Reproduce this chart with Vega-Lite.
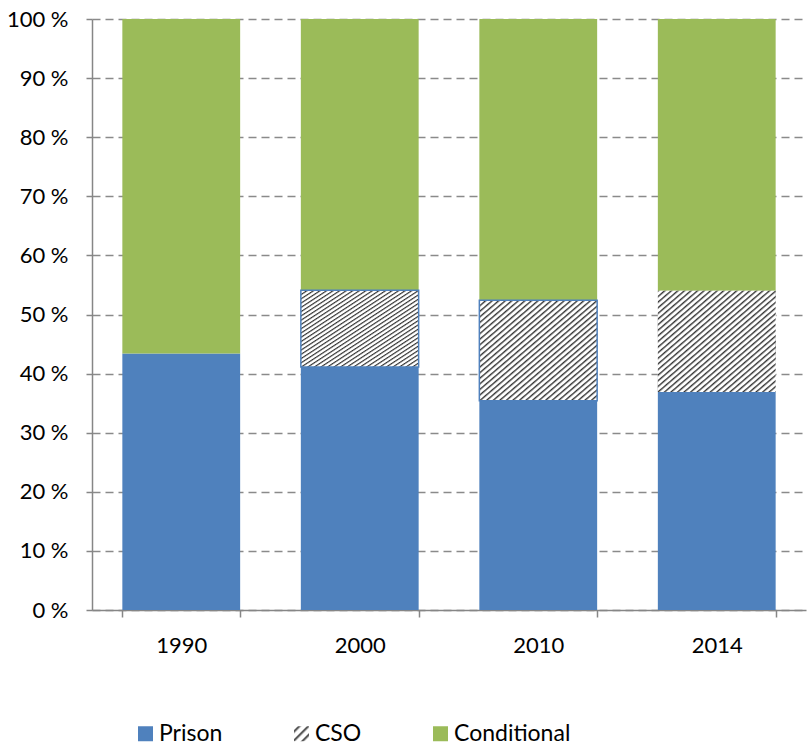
{
  "$schema": "https://vega.github.io/schema/vega-lite/v6.json",
  "width": 714,
  "height": 591,
  "autosize": {"type": "none"},
  "padding": {"left": 92, "top": 19, "right": 2, "bottom": 140},
  "background": "white",
  "config": {
    "font": "Lato",
    "view": {"stroke": null},
    "axis": {"labelFont": "Lato", "labelColor": "#000000", "labelFontSize": 22, "title": null},
    "legend": {"labelFont": "Lato", "labelColor": "#000000", "labelFontSize": 23, "padding": 0}
  },
  "data": {
    "values": [
      {"year": "1990", "series": "Prison", "pct": 43.4},
      {"year": "1990", "series": "CSO", "pct": 0},
      {"year": "1990", "series": "Conditional", "pct": 56.6},
      {"year": "2000", "series": "Prison", "pct": 41.1},
      {"year": "2000", "series": "CSO", "pct": 13.0},
      {"year": "2000", "series": "Conditional", "pct": 45.9},
      {"year": "2010", "series": "Prison", "pct": 35.4},
      {"year": "2010", "series": "CSO", "pct": 17.0},
      {"year": "2010", "series": "Conditional", "pct": 47.6},
      {"year": "2014", "series": "Prison", "pct": 36.9},
      {"year": "2014", "series": "CSO", "pct": 17.1},
      {"year": "2014", "series": "Conditional", "pct": 46.0}
    ]
  },
  "transform": [
    {"calculate": "indexof(['Prison', 'CSO', 'Conditional'], datum.series)", "as": "ord"}
  ],
  "encoding": {
    "x": {
      "field": "year",
      "type": "ordinal",
      "scale": {"paddingInner": 0.34, "paddingOuter": 0.17},
      "axis": {
        "labelAngle": 0,
        "tickBand": "extent",
        "tickSize": 7,
        "tickColor": "#868686",
        "tickWidth": 1.5,
        "domainColor": "#868686",
        "domainWidth": 1.5,
        "labelPadding": 18,
        "grid": false
      }
    },
    "y": {
      "field": "pct",
      "type": "quantitative",
      "stack": "zero",
      "scale": {"domain": [0, 100], "nice": false},
      "axis": {
        "values": [0, 10, 20, 30, 40, 50, 60, 70, 80, 90, 100],
        "labelExpr": "datum.value + ' %'",
        "grid": true,
        "gridDash": [8, 5],
        "gridColor": "#8a8a8a",
        "gridWidth": 1.3,
        "domainColor": "#868686",
        "domainWidth": 1.5,
        "tickColor": "#868686",
        "tickWidth": 1.5,
        "tickSize": 6,
        "labelPadding": 18
      }
    },
    "order": {"field": "ord", "type": "quantitative"}
  },
  "layer": [
    {
      "mark": {"type": "bar"},
      "encoding": {
        "color": {
          "field": "series",
          "type": "nominal",
          "sort": ["Prison", "CSO", "Conditional"],
          "scale": {
            "domain": ["Prison", "CSO", "Conditional"],
            "range": [
              "#4F81BD",
              {"signal": "{gradient: 'linear', x1: 0, y1: 0, x2: 1, y2: 1, stops: [{offset: 0, color: '#ffffff'}, {offset: 0.1, color: '#ffffff'}, {offset: 0.17, color: '#333333'}, {offset: 0.27, color: '#ffffff'}, {offset: 0.4, color: '#ffffff'}, {offset: 0.47, color: '#333333'}, {offset: 0.57, color: '#ffffff'}, {offset: 0.7, color: '#ffffff'}, {offset: 0.77, color: '#333333'}, {offset: 0.87, color: '#ffffff'}, {offset: 1, color: '#ffffff'}]}"},
              "#9BBB59"
            ]
          },
          "legend": {
            "title": null,
            "orient": "none",
            "direction": "horizontal",
            "legendX": 42,
            "legendY": 703,
            "symbolType": "square",
            "symbolSize": 225,
            "symbolStrokeWidth": 0,
            "symbolOpacity": 1,
            "labelOffset": 2,
            "columnPadding": 67
          }
        }
      }
    },
    {
      "mark": {
        "type": "bar",
        "strokeWidth": 1.5,
        "fill": {
          "gradient": "linear",
          "x1": 0, "y1": 0, "x2": 1, "y2": 1,
          "stops": [
            {"offset": 0, "color": "#333333"}, {"offset": 0.01111, "color": "#ffffff"}, {"offset": 0.02083, "color": "#ffffff"},
            {"offset": 0.02778, "color": "#333333"}, {"offset": 0.03889, "color": "#ffffff"}, {"offset": 0.04861, "color": "#ffffff"},
            {"offset": 0.05556, "color": "#333333"}, {"offset": 0.06667, "color": "#ffffff"}, {"offset": 0.07639, "color": "#ffffff"},
            {"offset": 0.08333, "color": "#333333"}, {"offset": 0.09444, "color": "#ffffff"}, {"offset": 0.10417, "color": "#ffffff"},
            {"offset": 0.11111, "color": "#333333"}, {"offset": 0.12222, "color": "#ffffff"}, {"offset": 0.13194, "color": "#ffffff"},
            {"offset": 0.13889, "color": "#333333"}, {"offset": 0.15, "color": "#ffffff"}, {"offset": 0.15972, "color": "#ffffff"},
            {"offset": 0.16667, "color": "#333333"}, {"offset": 0.17778, "color": "#ffffff"}, {"offset": 0.1875, "color": "#ffffff"},
            {"offset": 0.19444, "color": "#333333"}, {"offset": 0.20556, "color": "#ffffff"}, {"offset": 0.21528, "color": "#ffffff"},
            {"offset": 0.22222, "color": "#333333"}, {"offset": 0.23333, "color": "#ffffff"}, {"offset": 0.24306, "color": "#ffffff"},
            {"offset": 0.25, "color": "#333333"}, {"offset": 0.26111, "color": "#ffffff"}, {"offset": 0.27083, "color": "#ffffff"},
            {"offset": 0.27778, "color": "#333333"}, {"offset": 0.28889, "color": "#ffffff"}, {"offset": 0.29861, "color": "#ffffff"},
            {"offset": 0.30556, "color": "#333333"}, {"offset": 0.31667, "color": "#ffffff"}, {"offset": 0.32639, "color": "#ffffff"},
            {"offset": 0.33333, "color": "#333333"}, {"offset": 0.34444, "color": "#ffffff"}, {"offset": 0.35417, "color": "#ffffff"},
            {"offset": 0.36111, "color": "#333333"}, {"offset": 0.37222, "color": "#ffffff"}, {"offset": 0.38194, "color": "#ffffff"},
            {"offset": 0.38889, "color": "#333333"}, {"offset": 0.4, "color": "#ffffff"}, {"offset": 0.40972, "color": "#ffffff"},
            {"offset": 0.41667, "color": "#333333"}, {"offset": 0.42778, "color": "#ffffff"}, {"offset": 0.4375, "color": "#ffffff"},
            {"offset": 0.44444, "color": "#333333"}, {"offset": 0.45556, "color": "#ffffff"}, {"offset": 0.46528, "color": "#ffffff"},
            {"offset": 0.47222, "color": "#333333"}, {"offset": 0.48333, "color": "#ffffff"}, {"offset": 0.49306, "color": "#ffffff"},
            {"offset": 0.5, "color": "#333333"}, {"offset": 0.51111, "color": "#ffffff"}, {"offset": 0.52083, "color": "#ffffff"},
            {"offset": 0.52778, "color": "#333333"}, {"offset": 0.53889, "color": "#ffffff"}, {"offset": 0.54861, "color": "#ffffff"},
            {"offset": 0.55556, "color": "#333333"}, {"offset": 0.56667, "color": "#ffffff"}, {"offset": 0.57639, "color": "#ffffff"},
            {"offset": 0.58333, "color": "#333333"}, {"offset": 0.59444, "color": "#ffffff"}, {"offset": 0.60417, "color": "#ffffff"},
            {"offset": 0.61111, "color": "#333333"}, {"offset": 0.62222, "color": "#ffffff"}, {"offset": 0.63194, "color": "#ffffff"},
            {"offset": 0.63889, "color": "#333333"}, {"offset": 0.65, "color": "#ffffff"}, {"offset": 0.65972, "color": "#ffffff"},
            {"offset": 0.66667, "color": "#333333"}, {"offset": 0.67778, "color": "#ffffff"}, {"offset": 0.6875, "color": "#ffffff"},
            {"offset": 0.69444, "color": "#333333"}, {"offset": 0.70556, "color": "#ffffff"}, {"offset": 0.71528, "color": "#ffffff"},
            {"offset": 0.72222, "color": "#333333"}, {"offset": 0.73333, "color": "#ffffff"}, {"offset": 0.74306, "color": "#ffffff"},
            {"offset": 0.75, "color": "#333333"}, {"offset": 0.76111, "color": "#ffffff"}, {"offset": 0.77083, "color": "#ffffff"},
            {"offset": 0.77778, "color": "#333333"}, {"offset": 0.78889, "color": "#ffffff"}, {"offset": 0.79861, "color": "#ffffff"},
            {"offset": 0.80556, "color": "#333333"}, {"offset": 0.81667, "color": "#ffffff"}, {"offset": 0.82639, "color": "#ffffff"},
            {"offset": 0.83333, "color": "#333333"}, {"offset": 0.84444, "color": "#ffffff"}, {"offset": 0.85417, "color": "#ffffff"},
            {"offset": 0.86111, "color": "#333333"}, {"offset": 0.87222, "color": "#ffffff"}, {"offset": 0.88194, "color": "#ffffff"},
            {"offset": 0.88889, "color": "#333333"}, {"offset": 0.9, "color": "#ffffff"}, {"offset": 0.90972, "color": "#ffffff"},
            {"offset": 0.91667, "color": "#333333"}, {"offset": 0.92778, "color": "#ffffff"}, {"offset": 0.9375, "color": "#ffffff"},
            {"offset": 0.94444, "color": "#333333"}, {"offset": 0.95556, "color": "#ffffff"}, {"offset": 0.96528, "color": "#ffffff"},
            {"offset": 0.97222, "color": "#333333"}, {"offset": 0.98333, "color": "#ffffff"}, {"offset": 0.99306, "color": "#ffffff"},
            {"offset": 1, "color": "#333333"}
          ]
        }
      },
      "encoding": {
        "detail": {"field": "series", "type": "nominal"},
        "opacity": {
          "condition": {"test": "datum.series === 'CSO'", "value": 1},
          "value": 0
        },
        "stroke": {
          "condition": {"test": "datum.series === 'CSO' && (datum.year === '2000' || datum.year === '2010')", "value": "#4F81BD"},
          "value": null
        }
      }
    }
  ]
}
